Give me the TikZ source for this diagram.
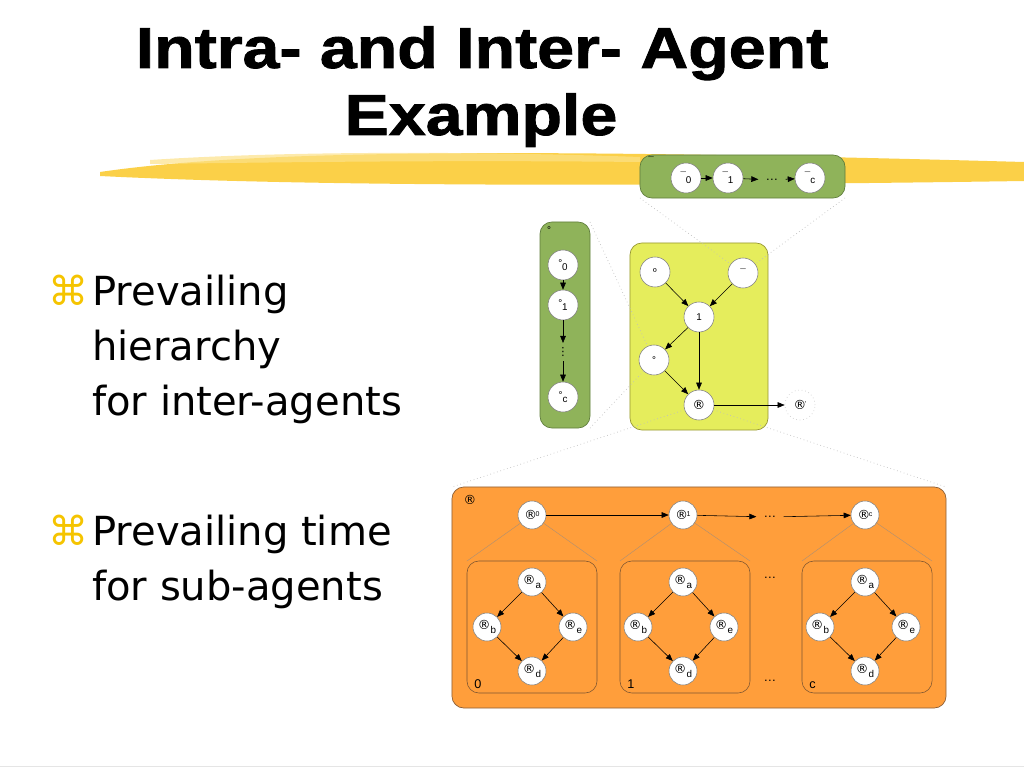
\documentclass[tikz,border=0pt]{standalone}
\usepackage{fontspec}
\setmainfont{Liberation Sans}
\setsansfont{Liberation Sans}
\newfontfamily\titlefont{Liberation Sans}[FakeStretch=1.15,FakeBold=1.5]
\newfontfamily\bodyfont{DejaVu Sans}
\newfontfamily\symfont{DejaVu Sans}
\usetikzlibrary{arrows.meta,positioning}
\definecolor{agentgreen}{RGB}{143,179,90}
\definecolor{agentgreenline}{RGB}{95,125,60}
\definecolor{agentyellow}{RGB}{229,237,92}
\definecolor{agentyellowline}{RGB}{150,150,50}
\definecolor{agentorange}{RGB}{255,158,59}
\definecolor{agentorangeline}{RGB}{140,95,55}
\definecolor{bulletgold}{RGB}{245,196,0}
\definecolor{marker}{RGB}{250,200,40}
\newcommand{\reg}{{\symfont\fontsize{9}{9}\selectfont ®}}
\newcommand{\lowlbl}[2]{#1\raisebox{-0.8ex}{#2}}
\newcommand{\uplbl}[2]{#1\kern-0.15em\raisebox{0.6ex}{\fontsize{5}{5}\selectfont #2}}
\begin{document}
\begin{tikzpicture}[
  x=0.025cm, y=-0.025cm,
  titletext/.style={font=\titlefont\bfseries\fontsize{41}{41}\selectfont, inner sep=0, anchor=base},
  bullettext/.style={font=\bodyfont\fontsize{28.5}{34}\selectfont, inner sep=0, anchor=base west},
  bulletmark/.style={font=\bodyfont\fontsize{28.5}{34}\selectfont, text=bulletgold, inner sep=0, anchor=base east},
  panel/.style={rectangle, rounded corners=8.5pt, line width=0.5pt, inner sep=0, outer sep=0},
  greenbox/.style={panel, fill=agentgreen, draw=agentgreenline},
  yellowbox/.style={panel, fill=agentyellow, draw=agentyellowline},
  orangebox/.style={panel, fill=agentorange, draw=agentorangeline},
  subbox/.style={panel, draw=agentorangeline!90!black, line width=0.4pt, minimum width=3.25cm, minimum height=3.3cm},
  var/.style={circle, draw=black!50, line width=0.4pt, fill=white, minimum size=0.75cm, inner sep=0, font=\fontsize{7}{8}\selectfont},
  smallvar/.style={var, minimum size=0.7cm},
  ghost/.style={circle, draw=black!20, dotted, line width=0.5pt, minimum size=0.75cm, inner sep=0, font=\fontsize{7}{8}\selectfont},
  plain/.style={inner sep=1pt, font=\fontsize{7}{8}\selectfont},
  gap/.style={inner xsep=5pt, inner ysep=1pt, font=\fontsize{9}{9}\selectfont},
  boxlabel/.style={inner sep=0, font=\fontsize{9}{10}\selectfont},
  arr/.style={-{Triangle[length=5pt,width=4pt]}, line width=0.4pt},
  zoomline/.style={black!25, dotted, line width=0.5pt},
  spreadline/.style={agentorangeline!70, line width=0.3pt}
]
\useasboundingbox (0,0) rectangle (1024,768);

\fill [marker, opacity=0.85] (100,172) .. controls (250,150) and (520,148) .. (1024,162) -- (1024,181) .. controls (620,187) and (300,186) .. (100,176) -- cycle;
\fill [marker!55, opacity=0.7] (150,160) .. controls (300,150) and (500,152) .. (640,157) -- (640,162) .. controls (450,160) and (300,162) .. (150,164) -- cycle;
\draw [black!10, line width=0.5pt] (0,766) -- (1024,766);

\node [titletext] (title1) at (482,68) {Intra- and Inter- Agent};
\node [titletext] (title2) at (481,135) {Example};

\node [bulletmark] (m1) at (89,305) {⌘};
\node [bullettext] (b1a) at (92,305) {Prevailing};
\node [bullettext] (b1b) at (92,360) {hierarchy};
\node [bullettext] (b1c) at (92,415) {for inter-agents};
\node [bulletmark] (m2) at (89,545) {⌘};
\node [bullettext] (b2a) at (92,545) {Prevailing time};
\node [bullettext] (b2b) at (92,600) {for sub-agents};

\node [greenbox, minimum width=5.125cm, minimum height=1.075cm] (tg) at (742.5,176.5) {};
\node [plain] (tglabel) at (651,161) {¯};
\node [var] (t0) at (686,178) {\lowlbl{¯}{0}};
\node [var] (t1) at (728,178) {\lowlbl{¯}{1}};
\node [gap] (tdots) at (772,180) {…};
\node [var] (tc) at (810,178) {\lowlbl{¯}{c}};
\draw [arr] (t0) -- (t1);
\draw [arr] (t1) -- (tdots);
\draw [arr] (tdots) -- (tc);

\node [greenbox, minimum width=1.25cm, minimum height=5.15cm] (lg) at (565,325) {};
\node [plain] (lglabel) at (549,230) {°};
\node [var] (l0) at (563,265) {\lowlbl{°}{0}};
\node [var] (l1) at (563,305) {\lowlbl{°}{1}};
\node [plain, inner ysep=3pt, font=\symfont\fontsize{8}{8}\selectfont] (ldots) at (563,352) {⋮};
\node [var] (lc) at (563,397) {\lowlbl{°}{c}};
\draw [arr] (l0) -- (l1);
\draw [arr] (l1) -- (ldots);
\draw [arr] (ldots) -- (lc);

\node [yellowbox, minimum width=3.45cm, minimum height=4.675cm] (yb) at (699,336.5) {};
\node [var] (yo) at (655,272) {º};
\node [var] (ym) at (743,273) {¯};
\node [var] (y1) at (699,317) {1};
\node [var] (yd) at (654,360) {°};
\node [var] (yr) at (699,405) {\reg};
\node [ghost] (yx) at (800,405) {\uplbl{\reg}{'}};
\draw [arr] (yo) -- (y1);
\draw [arr] (ym) -- (y1);
\draw [arr] (y1) -- (yd);
\draw [arr] (y1) -- (yr);
\draw [arr] (yd) -- (yr);
\draw [arr] (yr) -- (yx);

\node [orangebox, minimum width=12.35cm, minimum height=5.525cm] (ob) at (699,597.5) {};
\node [boxlabel] (oblabel) at (470,500) {\reg};
\node [smallvar] (o0) at (532,515) {\uplbl{\reg}{0}};
\node [smallvar] (o1) at (683,515) {\uplbl{\reg}{1}};
\node [gap] (odots) at (770,517) {…};
\node [smallvar] (oc) at (865,515) {\uplbl{\reg}{c}};
\draw [arr] (o0) -- (o1);
\draw [arr] (o1) -- (odots);
\draw [arr] (odots) -- (oc);

\node [subbox] (s0) at (532,627) {};
\node [boxlabel, anchor=base west] (s0label) at (474,688) {0};
\node [smallvar] (a0) at (532,582) {\lowlbl{\reg}{a}};
\node [smallvar] (b0) at (487,627) {\lowlbl{\reg}{b}};
\node [smallvar] (e0) at (573,627) {\lowlbl{\reg}{e}};
\node [smallvar] (d0) at (532,671) {\lowlbl{\reg}{d}};
\draw [arr] (a0) -- (b0);
\draw [arr] (a0) -- (e0);
\draw [arr] (b0) -- (d0);
\draw [arr] (e0) -- (d0);

\node [subbox] (s1) at (685,627) {};
\node [boxlabel, anchor=base west] (s1label) at (627,688) {1};
\node [smallvar] (a1) at (683,582) {\lowlbl{\reg}{a}};
\node [smallvar] (b1) at (638,627) {\lowlbl{\reg}{b}};
\node [smallvar] (e1) at (724,627) {\lowlbl{\reg}{e}};
\node [smallvar] (d1) at (683,671) {\lowlbl{\reg}{d}};
\draw [arr] (a1) -- (b1);
\draw [arr] (a1) -- (e1);
\draw [arr] (b1) -- (d1);
\draw [arr] (e1) -- (d1);

\node [subbox] (sc) at (867,627) {};
\node [boxlabel, anchor=base west] (sclabel) at (809,688) {c};
\node [smallvar] (ac) at (865,582) {\lowlbl{\reg}{a}};
\node [smallvar] (bc) at (820,627) {\lowlbl{\reg}{b}};
\node [smallvar] (ec) at (906,627) {\lowlbl{\reg}{e}};
\node [smallvar] (dc) at (865,671) {\lowlbl{\reg}{d}};
\draw [arr] (ac) -- (bc);
\draw [arr] (ac) -- (ec);
\draw [arr] (bc) -- (dc);
\draw [arr] (ec) -- (dc);

\node [gap] (mdots) at (770,578) {…};
\node [gap] (bdots) at (770,681) {…};

\draw [spreadline] (o0) -- (s0.north west);
\draw [spreadline] (o0) -- (s0.north east);
\draw [spreadline] (o1) -- (s1.north west);
\draw [spreadline] (o1) -- (s1.north east);
\draw [spreadline] (oc) -- (sc.north west);
\draw [spreadline] (oc) -- (sc.north east);

\draw [zoomline] (tg.south west) -- (ym);
\draw [zoomline] (tg.south east) -- (ym);
\draw [zoomline] (lg.north east) -- (yd);
\draw [zoomline] (lg.south east) -- (yd);
\draw [zoomline] (yr) -- (ob.north west);
\draw [zoomline] (yr) -- (ob.north east);
\end{tikzpicture}
\end{document}
